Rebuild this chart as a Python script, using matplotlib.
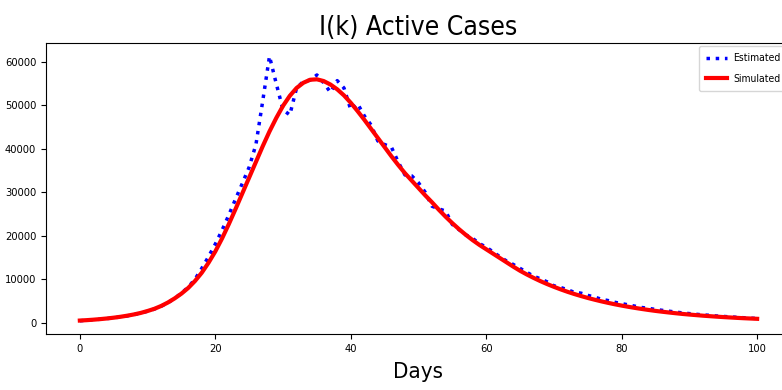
import matplotlib
matplotlib.use("Agg")
import matplotlib.pyplot as plt
import numpy as np

plt.rcParams['font.family'] = ['DejaVu Sans']
plt.rcParams['font.stretch'] = 'condensed'

# days 0..100
days = list(range(0, 101))

# I(k) estimated from data
estimated = [450, 560, 680, 800, 950, 1130, 1330, 1580, 1870, 2230,
             2650, 3150, 3800, 4600, 5600, 6800, 8200, 10000, 12500, 15200,
             18100, 21300, 24800, 28500, 32100, 35800, 41000, 51000, 61300, 55000,
             49000, 47800, 54000, 55500, 55800, 57000, 55200, 53000, 55700, 54000,
             49000, 50400, 47600, 45500, 41800, 41000, 40400, 37000, 34000, 33800,
             32200, 30000, 26800, 26200, 25700, 22600, 21400, 20200, 19400, 18200,
             17400, 16300, 15200, 14200, 13400, 12500, 11600, 10700, 10100, 9400,
             8500, 8100, 7600, 7000, 6800, 6300, 5900, 5400, 5100, 4700,
             4400, 4100, 3800, 3500, 3300, 3050, 2850, 2650, 2450, 2250,
             2100, 1950, 1800, 1700, 1550, 1450, 1350, 1250, 1150, 1050,
             980]

# I(k) from the model
simulated = [500, 590, 700, 830, 980, 1160, 1370, 1620, 1910, 2260,
             2700, 3200, 3850, 4650, 5600, 6700, 8000, 9600, 11500, 13800,
             16400, 19400, 22700, 26200, 29800, 33400, 37000, 40600, 44000, 47100,
             49900, 52200, 54000, 55200, 55900, 56000, 55600, 54800, 53700, 52300,
             50600, 48700, 46700, 44600, 42500, 40400, 38300, 36300, 34400, 32700,
             31000, 29300, 27700, 26000, 24400, 22900, 21500, 20200, 19000, 17900,
             16900, 15900, 14900, 13900, 12900, 11950, 11100, 10310, 9570, 8890,
             8260, 7670, 7120, 6610, 6140, 5700, 5300, 4920, 4570, 4240,
             3940, 3660, 3400, 3160, 2930, 2720, 2530, 2350, 2180, 2020,
             1880, 1750, 1620, 1510, 1400, 1300, 1210, 1120, 1040, 970,
             900]

fig = plt.figure(figsize=(7.82, 3.9), dpi=100)
ax = fig.add_axes([0.0588, 0.1436, 0.9527, 0.746])

ax.plot(days, estimated, "b:", lw=2.5, label="Estimated")
ax.plot(days, simulated, "r-", lw=3, label="Simulated")

ax.set_xticks([0, 20, 40, 60, 80, 100])
ax.tick_params(labelsize=8)
ax.set_title("I(k) Active Cases", fontsize=19, pad=6)
ax.set_xlabel("Days", fontsize=16, labelpad=6)
ax.legend(loc="upper right", fontsize=7.5, labelspacing=1.0, borderpad=0.7,
          handlelength=2, handletextpad=0.6, borderaxespad=0.3)

fig.savefig("out.png", dpi=100)
